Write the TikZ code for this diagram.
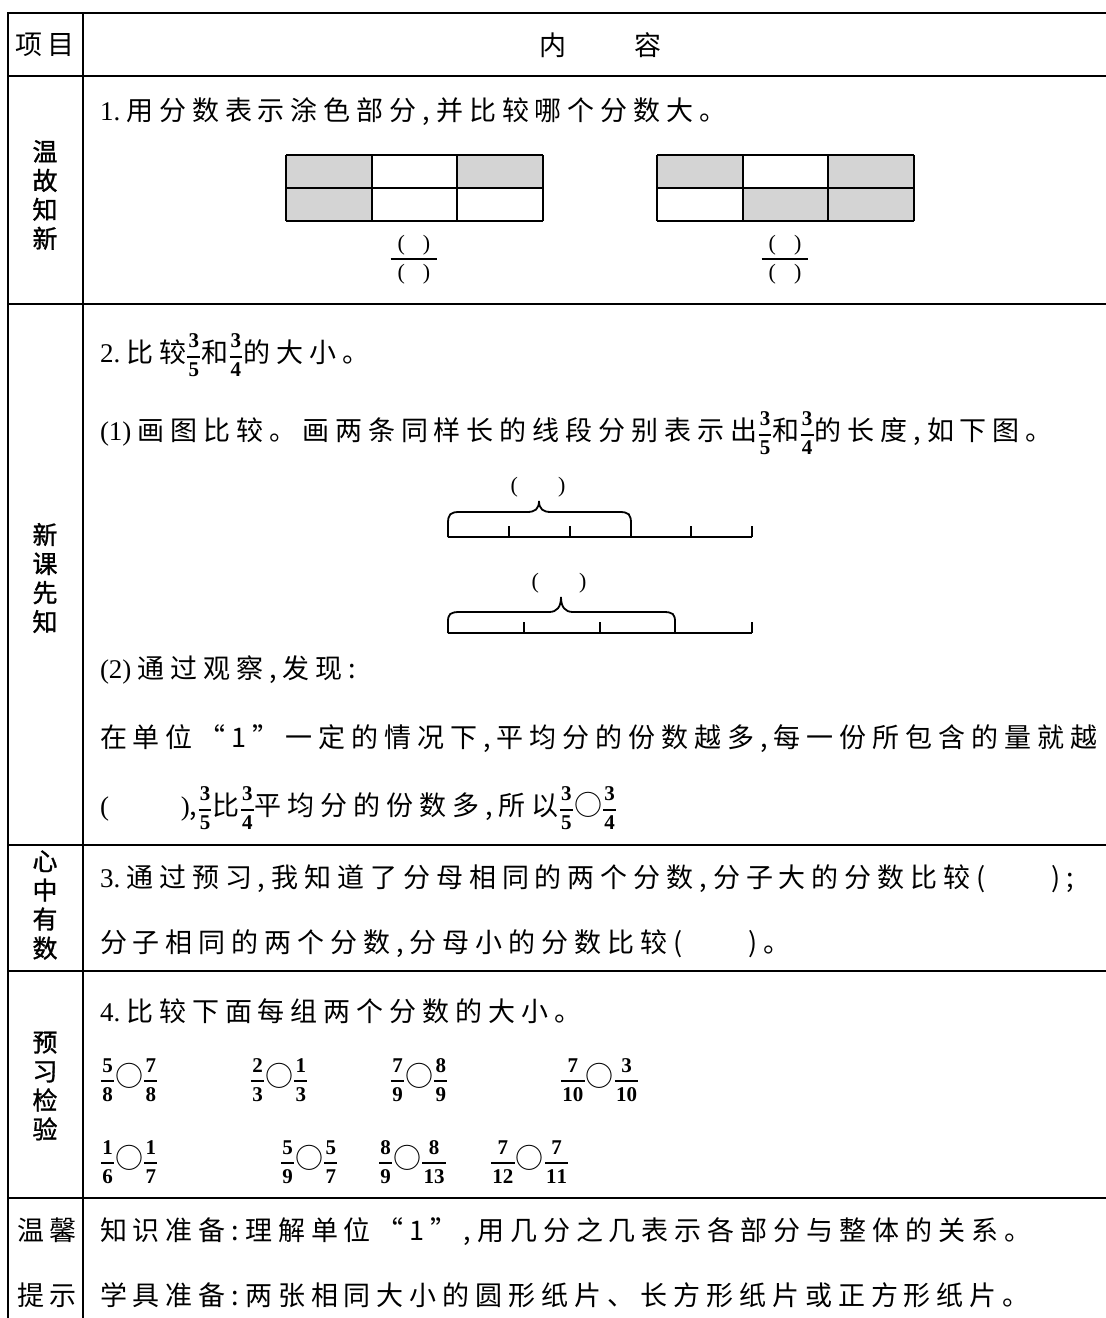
\documentclass[tikz,border=0pt]{standalone}
\usepackage{fontspec}
\setmainfont{Liberation Serif}
\newfontfamily\zh[LetterSpace=22]{Noto Sans CJK SC}
\newfontfamily\zhtight{Noto Sans CJK SC}
\newfontfamily\zhlab[FakeBold=1.2]{Noto Sans CJK SC}
\usepackage{amsmath}
\tikzstyle{every node}=[inner sep=0pt, outer sep=0pt]
\tikzstyle{rule}=[line width=1.6pt]
\tikzstyle{hd}=[font=\fontsize{27}{27}\selectfont\zh]
\tikzstyle{txt}=[anchor=base west, font=\fontsize{27}{27}\selectfont\zh]
\tikzstyle{lab}=[align=center, font=\fontsize{25}{29}\selectfont\zhlab]
\tikzstyle{cell}=[line width=1.8pt]
\tikzstyle{shade}=[fill=black!17]
\tikzstyle{seg}=[line width=1.8pt]
\tikzstyle{paren}=[font=\fontsize{22}{22}\selectfont]
\newcommand{\fs}[2]{{\fontsize{21}{21}\selectfont$\genfrac{}{}{1.8pt}{0}{\mkern1mu\mathbf{#1}\mkern1mu}{\mkern1mu\mathbf{#2}\mkern1mu}$}}
\newcommand{\qq}{{\fontsize{28}{28}\selectfont\zhtight ○}}

\begin{document}
\begin{tikzpicture}[x=1pt,y=-1pt]
\useasboundingbox (0,0) rectangle (1106,1318);
% table
\draw[rule] (1106,13) -- (8,13) -- (8,1318);
\draw[rule] (83,13) -- (83,1318);
\foreach \y in {76,304,845,971,1198}
  \draw[rule] (8,\y) -- (1106,\y);

% first column
\node[hd] (xm) at (45,45) {项目};
\node[hd] (nr1) at (553,45) {内};
\node[hd] (nr2) at (648,45) {容};
\node[lab] (wgzx) at (45,195) {温\\故\\知\\新};
\node[lab] (xkxz) at (45,578) {新\\课\\先\\知};
\node[lab] (xzys) at (45,905) {心\\中\\有\\数};
\node[lab] (yxjy) at (45,1086) {预\\习\\检\\验};
\node[hd] (wx) at (47,1230) {温馨};
\node[hd] (ts) at (47,1295) {提示};

% row 1
\node[txt] (t1) at (100,120) {{\rmfamily 1.}\hspace{6pt}用分数表示涂色部分,并比较哪个分数大。};
\def\cw{85.67}
\def\ch{33}
\foreach \c/\r in {0/0,2/0,0/1}
  \fill[shade] (286+\c*\cw,155+\r*\ch) rectangle ++(\cw,\ch);
\foreach \c/\r in {0/0,2/0,1/1,2/1}
  \fill[shade] (657+\c*\cw,155+\r*\ch) rectangle ++(\cw,\ch);
\foreach \gx in {286,657} {
  \foreach \c in {0,...,3}
    \draw[cell] (\gx+\c*\cw,155) -- (\gx+\c*\cw,221);
  \foreach \r in {0,1,2}
    \draw[cell] (\gx,155+\r*\ch) -- (\gx+3*\cw,155+\r*\ch);
}
\foreach \fx/\nm in {414/fa,785/fb} {
  \node[paren] (\nm1) at (\fx,245) {(\hspace{18pt})};
  \node[paren] (\nm2) at (\fx,274) {(\hspace{18pt})};
  \draw[line width=1.5pt] ([xshift=-7pt]\nm1.west |- 0,259) -- ([xshift=7pt]\nm1.east |- 0,259);
}

% row 2
\node[txt] (t2) at (100,362) {{\rmfamily 2.}\hspace{6pt}比较\fs{3}{5}和\fs{3}{4}的大小。};
\node[txt] (t3) at (100,440) {{\rmfamily (1)}\hspace{6pt}画图比较。画两条同样长的线段分别表示出\fs{3}{5}和\fs{3}{4}的长度,如下图。};
% segment 3/5
\def\ya{537}
\draw[seg] (448,\ya) -- (752,\ya);
\foreach \x in {509,570,691,752}
  \draw[seg] (\x,\ya) -- (\x,\ya-11);
\draw[seg] (448,\ya) -- (448,524) .. controls (448,514) and (450,512) .. (460,512) -- (527,512)
  .. controls (535,512) and (539,509) .. (539,501) .. controls (539,509) and (543,512) .. (551,512)
  -- (619,512) .. controls (629,512) and (631,514) .. (631,524) -- (631,\ya);
\node[paren] (ba) at (538,487) {(\hspace{40pt})};
% segment 3/4
\def\yb{633}
\draw[seg] (448,\yb) -- (752,\yb);
\foreach \x in {524,600,752}
  \draw[seg] (\x,\yb) -- (\x,\yb-11);
\draw[seg] (448,\yb) -- (448,622) .. controls (448,614) and (450,612) .. (460,612) -- (549,612)
  .. controls (557,612) and (561,607) .. (561,597) .. controls (561,607) and (565,612) .. (573,612)
  -- (663,612) .. controls (673,612) and (675,614) .. (675,622) -- (675,\yb);
\node[paren] (bb) at (559,583) {(\hspace{40pt})};
\node[txt] (t4) at (100,678) {{\rmfamily (2)}\hspace{6pt}通过观察,发现:};
\node[txt] (t5) at (100,747) {在单位“1”一定的情况下,平均分的份数越多,每一份所包含的量就越};
\node[txt] (t6) at (100,815) {{\rmfamily (\hspace{72pt})},\fs{3}{5}比\fs{3}{4}平均分的份数多,所以\fs{3}{5}\qq\fs{3}{4}};

% row 3
\node[txt] (t7) at (100,887) {{\rmfamily 3.}\hspace{6pt}通过预习,我知道了分母相同的两个分数,分子大的分数比较(\hspace{66pt});};
\node[txt] (t8) at (100,952) {分子相同的两个分数,分母小的分数比较(\hspace{66pt})。};

% row 4
\node[txt] (t9) at (100,1021) {{\rmfamily 4.}\hspace{6pt}比较下面每组两个分数的大小。};
\foreach \px/\py/\a/\b/\c/\d [count=\i] in
  {100/1080/5/8/7/8, 250/1080/2/3/1/3, 390/1080/7/9/8/9, 560/1080/7/10/3/10,
   100/1162/1/6/1/7, 280/1162/5/9/5/7, 378/1162/8/9/8/13, 490/1162/7/12/7/11}
  \node[anchor=west] (cmp\i) at (\px,\py) {\fs{\a}{\b}\qq\fs{\c}{\d}};

% row 5
\node[txt] (t10) at (100,1240) {知识准备:理解单位“1”,用几分之几表示各部分与整体的关系。};
\node[txt] (t11) at (100,1305) {学具准备:两张相同大小的圆形纸片、长方形纸片或正方形纸片。};
\end{tikzpicture}
\end{document}
